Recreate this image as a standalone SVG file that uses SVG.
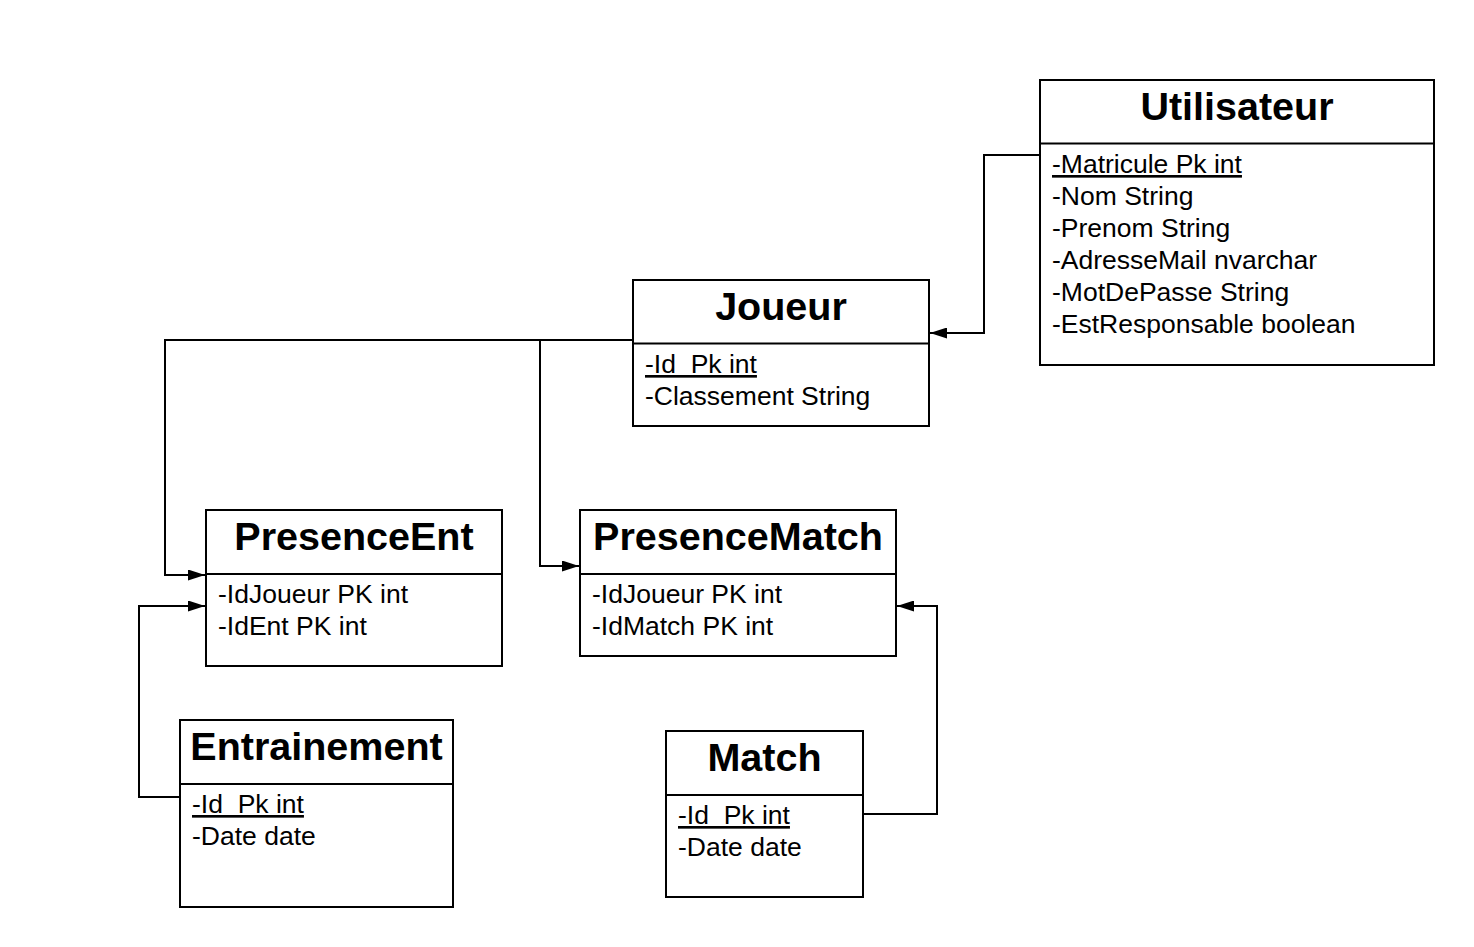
<svg xmlns="http://www.w3.org/2000/svg" width="1474" height="947" viewBox="0 0 1474 947">
<style>
.box{fill:#fff;stroke:#000;stroke-width:2}
.sep{stroke:#000;stroke-width:2}
.title{font-family:"Liberation Sans",Arial,sans-serif;font-weight:bold;font-size:39.5px;text-anchor:middle;fill:#000}
.attr{font-family:"Liberation Sans",Arial,sans-serif;font-size:26.5px;fill:#000;white-space:pre}
.pk{text-decoration:underline}
.conn{fill:none;stroke:#000;stroke-width:2}
</style>
<defs>
<marker id="arr" viewBox="0 0 17 11" refX="17" refY="5.5" markerWidth="17" markerHeight="11" markerUnits="userSpaceOnUse" orient="auto">
<path d="M0,0 L17,5.5 L0,11 Z" fill="#000"/>
</marker>
</defs>
<rect width="1474" height="947" fill="#fff"/>
<g id="connectors">
<path class="conn" d="M1040,155 H984 V333 H930" marker-end="url(#arr)"/>
<path class="conn" d="M633,340 H165 V575 H205" marker-end="url(#arr)"/>
<path class="conn" d="M540,340 V566 H579" marker-end="url(#arr)"/>
<path class="conn" d="M180,797 H139 V606 H205" marker-end="url(#arr)"/>
<path class="conn" d="M863,814 H937 V606 H897" marker-end="url(#arr)"/>
</g>
<g id="utilisateur">
<rect class="box" x="1040" y="80" width="394" height="285"/>
<line class="sep" x1="1040" y1="143.5" x2="1434" y2="143.5"/>
<text class="title" x="1237" y="120">Utilisateur</text>
<text class="attr pk" x="1052" y="173">-Matricule Pk int</text>
<text class="attr" x="1052" y="205">-Nom String</text>
<text class="attr" x="1052" y="237">-Prenom String</text>
<text class="attr" x="1052" y="269">-AdresseMail nvarchar</text>
<text class="attr" x="1052" y="301">-MotDePasse String</text>
<text class="attr" x="1052" y="333">-EstResponsable boolean</text>
</g>
<g id="joueur">
<rect class="box" x="633" y="280" width="296" height="146"/>
<line class="sep" x1="633" y1="343.5" x2="929" y2="343.5"/>
<text class="title" x="781" y="320">Joueur</text>
<text class="attr pk" x="645" y="373" xml:space="preserve">-Id  Pk int</text>
<text class="attr" x="645" y="405">-Classement String</text>
</g>
<g id="presenceent">
<rect class="box" x="206" y="510" width="296" height="156"/>
<line class="sep" x1="206" y1="574" x2="502" y2="574"/>
<text class="title" x="354" y="550">PresenceEnt</text>
<text class="attr" x="218" y="603">-IdJoueur PK int</text>
<text class="attr" x="218" y="635">-IdEnt PK int</text>
</g>
<g id="presencematch">
<rect class="box" x="580" y="510" width="316" height="146"/>
<line class="sep" x1="580" y1="574" x2="896" y2="574"/>
<text class="title" x="738" y="550">PresenceMatch</text>
<text class="attr" x="592" y="603">-IdJoueur PK int</text>
<text class="attr" x="592" y="635">-IdMatch PK int</text>
</g>
<g id="entrainement">
<rect class="box" x="180" y="720" width="273" height="187"/>
<line class="sep" x1="180" y1="784" x2="453" y2="784"/>
<text class="title" x="316.5" y="760">Entrainement</text>
<text class="attr pk" x="192" y="813" xml:space="preserve">-Id  Pk int</text>
<text class="attr" x="192" y="845">-Date date</text>
</g>
<g id="match">
<rect class="box" x="666" y="731" width="197" height="166"/>
<line class="sep" x1="666" y1="795" x2="863" y2="795"/>
<text class="title" x="764.5" y="771">Match</text>
<text class="attr pk" x="678" y="824" xml:space="preserve">-Id  Pk int</text>
<text class="attr" x="678" y="856">-Date date</text>
</g>
</svg>
